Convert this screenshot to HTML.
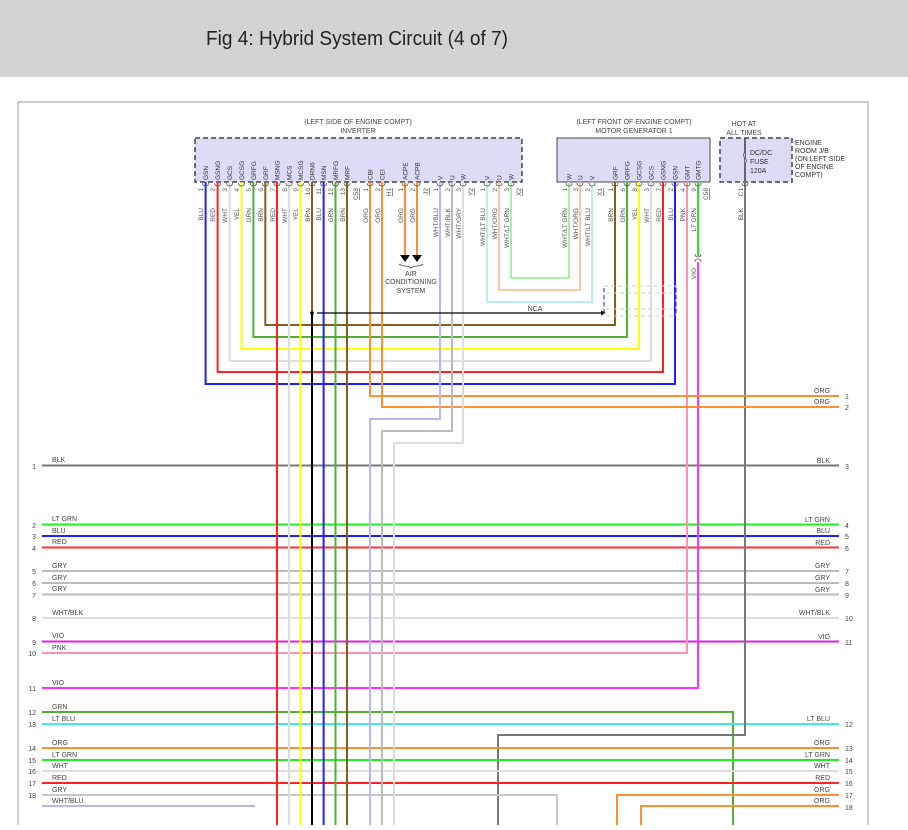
<!DOCTYPE html>
<html><head><meta charset="utf-8"><style>
body{margin:0;width:908px;height:825px;overflow:hidden;background:#fff;font-family:"Liberation Sans",sans-serif}
</style></head><body>
<svg width="908" height="825" xmlns="http://www.w3.org/2000/svg" font-family="Liberation Sans, sans-serif">
<rect x="0" y="0" width="908" height="77" fill="#d3d3d3"/>
<text x="206" y="45" font-size="20" fill="#222" textLength="302" lengthAdjust="spacingAndGlyphs">Fig 4: Hybrid System Circuit (4 of 7)</text>
<path d="M18 825V102H868V825" fill="none" stroke="#999" stroke-width="1"/>

<text x="358" y="124" font-size="7" fill="#444" text-anchor="middle">(LEFT SIDE OF ENGINE COMPT)</text>
<text x="358" y="133" font-size="7" fill="#444" text-anchor="middle">INVERTER</text>
<rect x="195" y="138" width="327" height="44" fill="#dcdcf8" stroke="#444" stroke-width="1.5" stroke-dasharray="5,3"/>
<text x="634" y="124" font-size="7" fill="#444" text-anchor="middle">(LEFT FRONT OF ENGINE COMPT)</text>
<text x="634" y="133" font-size="7" fill="#444" text-anchor="middle">MOTOR GENERATOR 1</text>
<rect x="557" y="138" width="153" height="44" fill="#dcdcf8" stroke="#444" stroke-width="1"/>
<text x="744" y="126" font-size="7" fill="#444" text-anchor="middle">HOT AT</text>
<text x="744" y="135" font-size="7" fill="#444" text-anchor="middle">ALL TIMES</text>
<rect x="720" y="138" width="72" height="44" fill="#dcdcf8" stroke="#444" stroke-width="1.5" stroke-dasharray="5,3"/>
<line x1="745" y1="138" x2="745" y2="182" stroke="#666" stroke-width="2"/>
<path d="M745 152q-3 3 0 6q3 3 0 6" fill="#dcdcf8" stroke="#666"/>
<text x="750" y="155" font-size="7" fill="#333">DC/DC</text>
<text x="750" y="164" font-size="7" fill="#333">FUSE</text>
<text x="750" y="173" font-size="7" fill="#333">120A</text>
<g font-size="7" fill="#333"><text x="795" y="145">ENGINE</text><text x="795" y="153">ROOM J/B</text><text x="795" y="161">(ON LEFT SIDE</text><text x="795" y="169">OF ENGINE</text><text x="795" y="177">COMPT)</text></g>

<g fill="none" stroke-width="2">
<path d="M42 465.5H839" stroke="#777"/>
<path d="M42 524.5H839" stroke="#20f020"/>
<path d="M42 536H839" stroke="#2020ff"/>
<path d="M42 547.5H839" stroke="#ff3030"/>
<path d="M42 571H839M42 583H839M42 594.5H839" stroke="#bbb"/>
<path d="M42 618H839" stroke="#ddd"/>
<path d="M42 641.5H839" stroke="#e020e0"/>
<path d="M42 653H687V182" stroke="#ff90b0"/>
<path d="M42 688H698V262" stroke="#ff30ff"/>
<path d="M698 182V256" stroke="#30e030"/>
<path d="M42 712H733V825" stroke="#50b030"/>
<path d="M42 724H839" stroke="#40e8f0"/>
<path d="M745 182V735H498V825" stroke="#777"/>
<path d="M42 748H839" stroke="#ff9030"/>
<path d="M42 760H839" stroke="#20f020"/>
<path d="M42 771H839" stroke="#ddd"/>
<path d="M42 783H839" stroke="#ff2020"/>
<path d="M42 795H557V825" stroke="#c8c8c8"/>
<path d="M42 806H255" stroke="#b8b8f0"/>
<path d="M839 795H617V825" stroke="#ff9030"/>
<path d="M839 806H641V825" stroke="#ff9030"/>
<path d="M205.6 182V384H675V182" stroke="#2020ff"/>
<path d="M217.6 182V372H663V182" stroke="#ff2020"/>
<path d="M229.6 182V361H651V182" stroke="#ddd"/>
<path d="M241.5 182V349H639V182" stroke="#ffff00"/>
<path d="M253.4 182V337H627V182" stroke="#50b030"/>
<path d="M265.3 182V325H615V182" stroke="#806020"/>
<path d="M511 182V278H569V182" stroke="#a8f0a8"/>
<path d="M499 182V290H580V182" stroke="#f8c8a0"/>
<path d="M487 182V302H592V182" stroke="#b8f0f0"/>
<path d="M277 182V825" stroke="#ff2020"/>
<path d="M289 182V825" stroke="#ddd"/>
<path d="M300.5 182V825" stroke="#ffff00"/>
<path d="M312 182V313" stroke="#806020"/>
<path d="M312 313V825" stroke="#000"/>
<path d="M323.6 182V825" stroke="#2020ff"/>
<path d="M335.5 182V825" stroke="#50b030"/>
<path d="M347 182V825" stroke="#806020"/>
<path d="M370 182V396H839" stroke="#ff9030"/>
<path d="M382 182V407H839" stroke="#ff9030"/>
<path d="M440 182V419H370V825" stroke="#b8b8f0"/>
<path d="M452 182V431H382V825" stroke="#bbb"/>
<path d="M463 182V443H394V825" stroke="#ddd"/>
<path d="M405 182V256M417 182V256" stroke="#ff9030"/>
</g>
<path d="M400 255h10l-5 7zM412 255h10l-5 7z" fill="#000"/>
<path d="M399 264q3 2 6 2q3 0 6 2q3-2 6-2q3 0 6-2" fill="none" stroke="#444" stroke-width="0.8"/>
<g font-size="7" fill="#444" text-anchor="middle"><text x="411" y="276">AIR</text><text x="411" y="284">CONDITIONING</text><text x="411" y="293">SYSTEM</text></g>
<circle cx="312" cy="313" r="1.8" fill="#000"/>
<line x1="317" y1="313" x2="602" y2="313" stroke="#000" stroke-width="1.3"/>
<path d="M606 313l-5-2.5v5z" fill="#000"/>
<text x="535" y="311" font-size="7" fill="#444" text-anchor="middle">NCA</text>
<rect x="604" y="286" width="72" height="30" fill="none" stroke="#ccc" stroke-dasharray="4,3"/>
<path d="M606 293H676M606 309H676" stroke="#ccc" stroke-dasharray="4,3"/>
<path d="M604 288V314M676 288V314" stroke="#333" stroke-dasharray="4,3"/>

<g fill="none" stroke="#555" stroke-width="0.8">
<path d="M202.6 183q0 3 3 3q3 0 3-3M214.6 183q0 3 3 3q3 0 3-3M226.6 183q0 3 3 3q3 0 3-3M238.5 183q0 3 3 3q3 0 3-3M250.4 183q0 3 3 3q3 0 3-3M262.3 183q0 3 3 3q3 0 3-3M274 183q0 3 3 3q3 0 3-3M286 183q0 3 3 3q3 0 3-3M297.5 183q0 3 3 3q3 0 3-3M309 183q0 3 3 3q3 0 3-3M320.6 183q0 3 3 3q3 0 3-3M332.5 183q0 3 3 3q3 0 3-3M344 183q0 3 3 3q3 0 3-3M367 183q0 3 3 3q3 0 3-3M379 183q0 3 3 3q3 0 3-3M402 183q0 3 3 3q3 0 3-3M414 183q0 3 3 3q3 0 3-3M437 183q0 3 3 3q3 0 3-3M449 183q0 3 3 3q3 0 3-3M460 183q0 3 3 3q3 0 3-3M484 183q0 3 3 3q3 0 3-3M496 183q0 3 3 3q3 0 3-3M508 183q0 3 3 3q3 0 3-3M566 183q0 3 3 3q3 0 3-3M577 183q0 3 3 3q3 0 3-3M589 183q0 3 3 3q3 0 3-3M612 183q0 3 3 3q3 0 3-3M624 183q0 3 3 3q3 0 3-3M636 183q0 3 3 3q3 0 3-3M648 183q0 3 3 3q3 0 3-3M660 183q0 3 3 3q3 0 3-3M672 183q0 3 3 3q3 0 3-3M684 183q0 3 3 3q3 0 3-3M695 183q0 3 3 3q3 0 3-3M742 183q0 3 3 3q3 0 3-3M695 254q0 3 3 3q3 0 3-3M695 262q0-3 3-3q3 0 3 3"/>
</g>

<g font-size="6.5" fill="#333">
<g transform="translate(208,180) rotate(-90)"><text>GSN</text></g>
<g transform="translate(220,180) rotate(-90)"><text>GSNG</text></g>
<g transform="translate(232,180) rotate(-90)"><text>GCS</text></g>
<g transform="translate(244,180) rotate(-90)"><text>GCSG</text></g>
<g transform="translate(256,180) rotate(-90)"><text>GRFG</text></g>
<g transform="translate(268,180) rotate(-90)"><text>GRF</text></g>
<g transform="translate(279.5,180) rotate(-90)"><text>MSNG</text></g>
<g transform="translate(291.5,180) rotate(-90)"><text>MCS</text></g>
<g transform="translate(303,180) rotate(-90)"><text>MCSG</text></g>
<g transform="translate(314.5,180) rotate(-90)"><text>DRN6</text></g>
<g transform="translate(326,180) rotate(-90)"><text>MSN</text></g>
<g transform="translate(338,180) rotate(-90)"><text>MRFG</text></g>
<g transform="translate(349.5,180) rotate(-90)"><text>MRF</text></g>
<g transform="translate(372.5,180) rotate(-90)"><text>CBI</text></g>
<g transform="translate(384.5,180) rotate(-90)"><text>CEI</text></g>
<g transform="translate(407.5,180) rotate(-90)"><text>ACPE</text></g>
<g transform="translate(419.5,180) rotate(-90)"><text>ACPB</text></g>
<g transform="translate(442.5,180) rotate(-90)"><text>V</text></g>
<g transform="translate(454.5,180) rotate(-90)"><text>U</text></g>
<g transform="translate(465.5,180) rotate(-90)"><text>W</text></g>
<g transform="translate(489.5,180) rotate(-90)"><text>V</text></g>
<g transform="translate(501.5,180) rotate(-90)"><text>U</text></g>
<g transform="translate(513.5,180) rotate(-90)"><text>W</text></g>
<g transform="translate(571.5,180) rotate(-90)"><text>W</text></g>
<g transform="translate(582.5,180) rotate(-90)"><text>U</text></g>
<g transform="translate(594.5,180) rotate(-90)"><text>V</text></g>
<g transform="translate(617.5,180) rotate(-90)"><text>GRF</text></g>
<g transform="translate(629.5,180) rotate(-90)"><text>GRFG</text></g>
<g transform="translate(641.5,180) rotate(-90)"><text>GCSG</text></g>
<g transform="translate(653.5,180) rotate(-90)"><text>GCS</text></g>
<g transform="translate(665.5,180) rotate(-90)"><text>GSNG</text></g>
<g transform="translate(677.5,180) rotate(-90)"><text>GSN</text></g>
<g transform="translate(689.5,180) rotate(-90)"><text>GMT</text></g>
<g transform="translate(700.5,180) rotate(-90)"><text>GMTG</text></g>
</g>
<g font-size="6.5" fill="#555" text-anchor="end">
<g transform="translate(203,188) rotate(-90)"><text>1</text></g>
<g transform="translate(215,188) rotate(-90)"><text>2</text></g>
<g transform="translate(227,188) rotate(-90)"><text>3</text></g>
<g transform="translate(239,188) rotate(-90)"><text>4</text></g>
<g transform="translate(251,188) rotate(-90)"><text>5</text></g>
<g transform="translate(263,188) rotate(-90)"><text>6</text></g>
<g transform="translate(275,188) rotate(-90)"><text>7</text></g>
<g transform="translate(287,188) rotate(-90)"><text>8</text></g>
<g transform="translate(298,188) rotate(-90)"><text>9</text></g>
<g transform="translate(310,188) rotate(-90)"><text>10</text></g>
<g transform="translate(321,188) rotate(-90)"><text>11</text></g>
<g transform="translate(333,188) rotate(-90)"><text>12</text></g>
<g transform="translate(345,188) rotate(-90)"><text>13</text></g>
<g transform="translate(358,188) rotate(-90)"><text text-decoration="underline">C58</text></g>
<g transform="translate(368,188) rotate(-90)"><text>1</text></g>
<g transform="translate(380,188) rotate(-90)"><text>2</text></g>
<g transform="translate(391,188) rotate(-90)"><text text-decoration="underline">H1</text></g>
<g transform="translate(403,188) rotate(-90)"><text>1</text></g>
<g transform="translate(415,188) rotate(-90)"><text>2</text></g>
<g transform="translate(428,188) rotate(-90)"><text text-decoration="underline">J2</text></g>
<g transform="translate(438,188) rotate(-90)"><text>1</text></g>
<g transform="translate(450,188) rotate(-90)"><text>2</text></g>
<g transform="translate(461,188) rotate(-90)"><text>3</text></g>
<g transform="translate(473,188) rotate(-90)"><text text-decoration="underline">Y2</text></g>
<g transform="translate(485,188) rotate(-90)"><text>1</text></g>
<g transform="translate(497,188) rotate(-90)"><text>2</text></g>
<g transform="translate(509,188) rotate(-90)"><text>3</text></g>
<g transform="translate(521,188) rotate(-90)"><text text-decoration="underline">X2</text></g>
<g transform="translate(567,188) rotate(-90)"><text>1</text></g>
<g transform="translate(578,188) rotate(-90)"><text>3</text></g>
<g transform="translate(590,188) rotate(-90)"><text>2</text></g>
<g transform="translate(602,188) rotate(-90)"><text text-decoration="underline">X1</text></g>
<g transform="translate(613,188) rotate(-90)"><text>1</text></g>
<g transform="translate(625,188) rotate(-90)"><text>6</text></g>
<g transform="translate(637,188) rotate(-90)"><text>8</text></g>
<g transform="translate(649,188) rotate(-90)"><text>3</text></g>
<g transform="translate(661,188) rotate(-90)"><text>7</text></g>
<g transform="translate(673,188) rotate(-90)"><text>2</text></g>
<g transform="translate(685,188) rotate(-90)"><text>4</text></g>
<g transform="translate(696,188) rotate(-90)"><text>9</text></g>
<g transform="translate(708,188) rotate(-90)"><text text-decoration="underline">C58</text></g>
<g transform="translate(743,188) rotate(-90)"><text>C1</text></g>
<g transform="translate(203,208) rotate(-90)"><text>BLU</text></g>
<g transform="translate(215,208) rotate(-90)"><text>RED</text></g>
<g transform="translate(227,208) rotate(-90)"><text>WHT</text></g>
<g transform="translate(239,208) rotate(-90)"><text>YEL</text></g>
<g transform="translate(251,208) rotate(-90)"><text>GRN</text></g>
<g transform="translate(263,208) rotate(-90)"><text>BRN</text></g>
<g transform="translate(275,208) rotate(-90)"><text>RED</text></g>
<g transform="translate(287,208) rotate(-90)"><text>WHT</text></g>
<g transform="translate(298,208) rotate(-90)"><text>YEL</text></g>
<g transform="translate(310,208) rotate(-90)"><text>BRN</text></g>
<g transform="translate(321,208) rotate(-90)"><text>BLU</text></g>
<g transform="translate(333,208) rotate(-90)"><text>GRN</text></g>
<g transform="translate(345,208) rotate(-90)"><text>BRN</text></g>
<g transform="translate(368,208) rotate(-90)"><text>ORG</text></g>
<g transform="translate(380,208) rotate(-90)"><text>ORG</text></g>
<g transform="translate(403,208) rotate(-90)"><text>ORG</text></g>
<g transform="translate(415,208) rotate(-90)"><text>ORG</text></g>
<g transform="translate(438,208) rotate(-90)"><text>WHT/BLU</text></g>
<g transform="translate(450,208) rotate(-90)"><text>WHT/BLK</text></g>
<g transform="translate(461,208) rotate(-90)"><text>WHT/GRY</text></g>
<g transform="translate(485,208) rotate(-90)"><text>WHT/LT BLU</text></g>
<g transform="translate(497,208) rotate(-90)"><text>WHT/ORG</text></g>
<g transform="translate(509,208) rotate(-90)"><text>WHT/LT GRN</text></g>
<g transform="translate(567,208) rotate(-90)"><text>WHT/LT GRN</text></g>
<g transform="translate(578,208) rotate(-90)"><text>WHT/ORG</text></g>
<g transform="translate(590,208) rotate(-90)"><text>WHT/LT BLU</text></g>
<g transform="translate(613,208) rotate(-90)"><text>BRN</text></g>
<g transform="translate(625,208) rotate(-90)"><text>GRN</text></g>
<g transform="translate(637,208) rotate(-90)"><text>YEL</text></g>
<g transform="translate(649,208) rotate(-90)"><text>WHT</text></g>
<g transform="translate(661,208) rotate(-90)"><text>RED</text></g>
<g transform="translate(673,208) rotate(-90)"><text>BLU</text></g>
<g transform="translate(685,208) rotate(-90)"><text>PNK</text></g>
<g transform="translate(696,208) rotate(-90)"><text>LT GRN</text></g>
<g transform="translate(696,268) rotate(-90)"><text>VIO</text></g>
<g transform="translate(743,208) rotate(-90)"><text>BLK</text></g>
</g>

<g font-size="7" fill="#444">
<text x="52" y="462">BLK</text><text x="52" y="521">LT GRN</text><text x="52" y="533">BLU</text><text x="52" y="544">RED</text>
<text x="52" y="568">GRY</text><text x="52" y="580">GRY</text><text x="52" y="591">GRY</text><text x="52" y="615">WHT/BLK</text>
<text x="52" y="638">VIO</text><text x="52" y="650">PNK</text><text x="52" y="685">VIO</text><text x="52" y="709">GRN</text>
<text x="52" y="721">LT BLU</text><text x="52" y="745">ORG</text><text x="52" y="757">LT GRN</text><text x="52" y="768">WHT</text>
<text x="52" y="780">RED</text><text x="52" y="792">GRY</text><text x="52" y="803">WHT/BLU</text>
</g>
<g font-size="7" fill="#444" text-anchor="end">
<text x="36" y="469">1</text><text x="36" y="528">2</text><text x="36" y="539">3</text><text x="36" y="551">4</text>
<text x="36" y="574">5</text><text x="36" y="586">6</text><text x="36" y="598">7</text><text x="36" y="621">8</text>
<text x="36" y="645">9</text><text x="36" y="656">10</text><text x="36" y="691">11</text><text x="36" y="715">12</text>
<text x="36" y="727">13</text><text x="36" y="751">14</text><text x="36" y="763">15</text><text x="36" y="774">16</text>
<text x="36" y="786">17</text><text x="36" y="798">18</text>
</g>
<g font-size="7" fill="#444" text-anchor="end">
<text x="830" y="393">ORG</text><text x="830" y="404">ORG</text><text x="830" y="463">BLK</text>
<text x="830" y="522">LT GRN</text><text x="830" y="533">BLU</text><text x="830" y="545">RED</text>
<text x="830" y="568">GRY</text><text x="830" y="580">GRY</text><text x="830" y="592">GRY</text><text x="830" y="615">WHT/BLK</text>
<text x="830" y="639">VIO</text><text x="830" y="721">LT BLU</text><text x="830" y="745">ORG</text><text x="830" y="757">LT GRN</text>
<text x="830" y="768">WHT</text><text x="830" y="780">RED</text><text x="830" y="792">ORG</text><text x="830" y="803">ORG</text>
</g>
<g font-size="7" fill="#444">
<text x="845" y="399">1</text><text x="845" y="410">2</text><text x="845" y="469">3</text>
<text x="845" y="528">4</text><text x="845" y="539">5</text><text x="845" y="551">6</text>
<text x="845" y="574">7</text><text x="845" y="586">8</text><text x="845" y="598">9</text><text x="845" y="621">10</text>
<text x="845" y="645">11</text><text x="845" y="727">12</text><text x="845" y="751">13</text><text x="845" y="763">14</text>
<text x="845" y="774">15</text><text x="845" y="786">16</text><text x="845" y="798">17</text><text x="845" y="810">18</text>
</g>
</svg>
</body></html>
